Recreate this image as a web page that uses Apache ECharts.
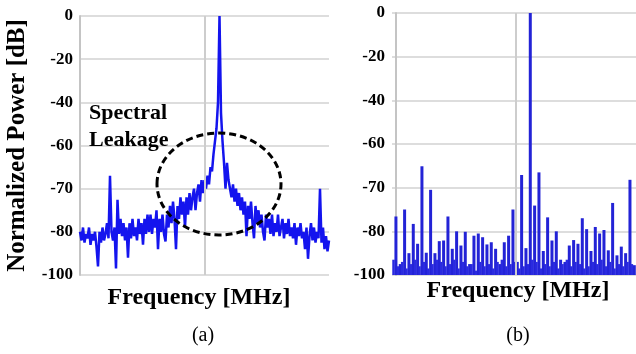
<!DOCTYPE html>
<html>
<head>
<meta charset="utf-8">
<script src="https://cdn.jsdelivr.net/npm/echarts@6/dist/echarts.min.js"></script>
<style>html,body{margin:0;padding:0;background:#fff}#c{width:636px;height:354px}</style>
</head>
<body>
<div id="c"></div>
<script>
// Y tick labels (equally spaced on the original chart, non-uniform dB values)
const yTickLabels = ['-100', '-80', '-70', '-60', '-40', '-20', '0'];
const yTickDb = [-100, -80, -70, -60, -40, -20, 0];

// Panel (a): normalized power [dB] per frequency bin (index = bin)
const powerA = [
  -80,-84,-79,-85,-81,-83,-79,-86,-81,-84,-80,-87,-96,
  -80,-85,-79,-84,-81,-78,-83,
  -67,-80,-84,-79,-97,-72.6,-81,-77,
  -82,-78,-84,-79,-92,-78,-83,-77,-82,-79,-84,-77,-81,-78,-86,-77,-81,-76,
  -80,-76,-81,-77,-79,-75,-88,-77,-80,-76,-81,-84.5,-76,-79,-74,-78,-73,-77,-88,-74,-77,-72,-76,-73,-79,
  -72,-76,-71,-75,-72,-70,-75,-71,-69,-73,-68,-71,-68,-70,-67,-69,-65,-66,-62,-58,-52,-40,0,
  -45,-58,-64,-70,-64,-68,
  -68,-72,-69,-73,-70,-74,-71,-75,-72,-76,-73,-82,-74,-77,-73,-78,-83,-74,-78,-75,-79,-76,-80,-84,-76,-79,
  -77,-81,-76,-82,-78,-80,-76,-82,-79,-77,-83,-78,-81,-77,-82,-79,-83,-78,-86,-79,-82,-78,-83,-80,-88,
  -79,-92.5,-82,-78,-84,-79,-85,-80,-83,-70,-85,-79,-88,-82,-89,-84
];

// Panel (b): stem heights [dB] at bins 0..55
const powerB = [
  -76.6,-95,-75,-90,-78.3,-85.7,-65.1,-89.8,-70.5,-90,
  -84.5,-84.2,-76.6,-88,-80,-86.5,-80.2,-95,-82,-81,
  -82.7,-86,-85,-88,-95,-85,-82,-75,-94,-67.1,
  -87.7,0,-74.1,-66.5,-89,-76.8,-84.2,-80,-93,-94,
  -86.5,-84,-85.7,-77,-79.5,-89,-79,-81,-79.7,-88.7,
  -73.5,-91,-87,-90,-68.2,-95.5
];
// Panel (b): noise-floor stems at half bins (-0.5, 0.5, ... 54.5)
const floorB = [
  -93,-96,-94,-97,-95,-93,-96,-94,-97,-95,-93,-94,-96,-95,-93,-97,-94,-96,-95,-98,
  -94,-96,-95,-97,-94,-93,-96,-95,-94,-97,-96,-95,-93,-94,-97,-95,-96,-94,-97,-95,
  -93,-96,-94,-95,-97,-96,-94,-95,-93,-96,-94,-97,-95,-96,-94,-95
];

function pos(db) {
  for (let i = 0; i < yTickDb.length - 1; i++) {
    const a = yTickDb[i], b = yTickDb[i + 1];
    if (db >= a && db <= b) return i + (db - a) / (b - a);
  }
  return db < yTickDb[0] ? 0 : yTickDb.length - 1;
}

const lineA = powerA.map((v, i) => [i, pos(v)]);
const stemsB = powerB.map((v, k) => [k, pos(v)]);
const floorStemsB = floorB.map((v, j) => [j - 0.5, pos(v)]);

const FONT = "'Liberation Serif','Times New Roman',serif";
const gridColor = '#d2d2d2';

function yAxisDef(gridIndex, withName) {
  return {
    type: 'value', gridIndex: gridIndex, min: 0, max: 6, interval: 1,
    axisLine: { show: true, lineStyle: { color: '#c4c4c4', width: 2 } },
    axisTick: { show: false },
    splitLine: { show: true, lineStyle: { color: gridColor, width: 1.5 } },
    axisLabel: {
      formatter: v => yTickLabels[Math.round(v)],
      fontFamily: FONT, fontWeight: 'bold', fontSize: 17, color: '#000', margin: 7
    },
    name: withName ? 'Normalized Power [dB]' : '',
    nameLocation: 'middle', nameRotate: 90, nameGap: 50,
    nameTextStyle: { fontFamily: FONT, fontWeight: 'bold', fontSize: 25, color: '#000' }
  };
}
function xAxisDef(gridIndex, min, max) {
  return {
    type: 'value', gridIndex: gridIndex, min: min, max: max,
    axisLine: { show: false }, axisTick: { show: false }, axisLabel: { show: false },
    splitLine: { show: false }
  };
}
const centerLine = (x) => ({
  silent: true, symbol: 'none', label: { show: false },
  lineStyle: { color: '#cdcdcd', width: 2, type: 'solid' },
  data: [{ xAxis: x }]
});

const chart = echarts.init(document.getElementById('c'), null, { renderer: 'canvas' });
chart.setOption({
  animation: false,
  backgroundColor: '#fff',
  grid: [
    { left: 80, top: 16, width: 249, height: 259 },
    { left: 392, top: 13, width: 244, height: 262 }
  ],
  xAxis: [xAxisDef(0, 0, powerA.length - 1), xAxisDef(1, -0.85, 55.45)],
  yAxis: [yAxisDef(0, true), yAxisDef(1, false)],
  series: [
    {
      type: 'line', xAxisIndex: 0, yAxisIndex: 0, data: lineA,
      showSymbol: false, smooth: false,
      lineStyle: { color: '#1414ee', width: 2.5 },
      markLine: centerLine((powerA.length - 1) / 2), z: 3
    },
    {
      type: 'bar', xAxisIndex: 1, yAxisIndex: 1, data: stemsB,
      barWidth: 3, barGap: '-100%', itemStyle: { color: '#2323d6' },
      markLine: centerLine(27.7), z: 3
    },
    {
      type: 'bar', xAxisIndex: 1, yAxisIndex: 1, data: floorStemsB,
      barWidth: 2.5, barGap: '-100%', itemStyle: { color: '#2a2ae0' }, z: 3
    }
  ],
  graphic: [
    { type: 'ellipse', shape: { cx: 219, cy: 184, rx: 62, ry: 51 },
      style: { fill: 'none', stroke: '#000', lineWidth: 3, lineDash: [7, 4] }, z: 10 },
    { type: 'text', left: 89, top: 100,
      style: { text: 'Spectral\nLeakage', font: "bold 22px 'Liberation Serif'", fill: '#000', lineHeight: 27 }, z: 10 },
    { type: 'text', x: 199, y: 298,
      style: { text: 'Frequency [MHz]', font: "bold 24px 'Liberation Serif'", fill: '#000', textAlign: 'center', textVerticalAlign: 'middle' } },
    { type: 'text', x: 518, y: 291,
      style: { text: 'Frequency [MHz]', font: "bold 24px 'Liberation Serif'", fill: '#000', textAlign: 'center', textVerticalAlign: 'middle' } },
    { type: 'text', x: 203, y: 336,
      style: { text: '(a)', font: "20px 'Liberation Serif'", fill: '#000', textAlign: 'center', textVerticalAlign: 'middle' } },
    { type: 'text', x: 518, y: 336,
      style: { text: '(b)', font: "20px 'Liberation Serif'", fill: '#000', textAlign: 'center', textVerticalAlign: 'middle' } }
  ]
});
</script>
</body>
</html>
